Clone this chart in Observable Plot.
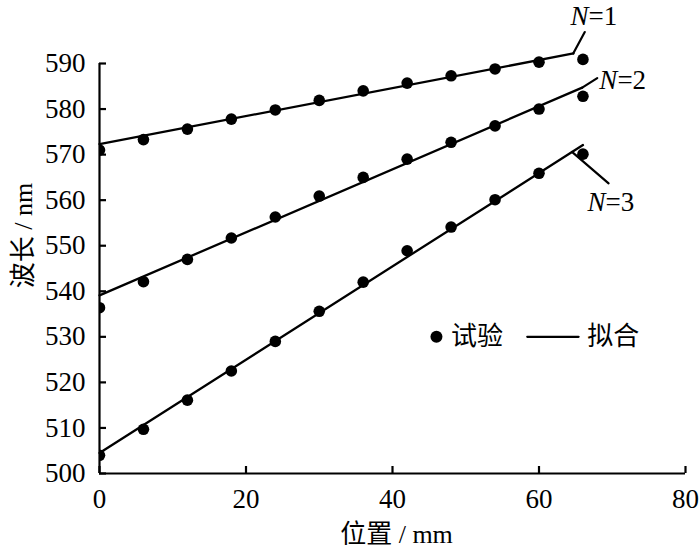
<!DOCTYPE html>
<html><head><meta charset="utf-8">
<script src="https://cdn.jsdelivr.net/npm/d3@7"></script>
<script src="https://cdn.jsdelivr.net/npm/@observablehq/plot@0.6"></script>
<style>
body{margin:0;background:#fff}
#chart svg, #chart svg text {font-family: "Liberation Serif", "Times New Roman", "DejaVu Serif", "Noto Sans CJK SC", serif !important;}
</style>
</head><body><div id="chart"></div>
<script>
// Data
const positions = [0, 6, 12, 18, 24, 30, 36, 42, 48, 54, 60, 66];
const seriesNames = ["N=1", "N=2", "N=3"];
const testN1 = [571.0, 573.3, 575.6, 577.8, 579.8, 581.9, 584.0, 585.7, 587.3, 588.8, 590.3, 590.9];
const testN2 = [536.4, 542.1, 547.0, 551.7, 556.3, 560.9, 565.0, 569.0, 572.7, 576.3, 580.0, 582.8];
const testN3 = [504.0, 509.7, 516.1, 522.5, 529.0, 535.6, 542.0, 548.9, 554.1, 560.1, 565.9, 570.1];
// fitted lines: start and end points
const fitX1 = [0, 64.7], fitY1 = [572.3, 592.2];
const fitX2 = [0, 65.9], fitY2 = [539.1, 584.7];
const fitX3 = [0, 66.0], fitY3 = [504.5, 572.1];
const xTicks = [0, 20, 40, 60, 80];
const yTicks = [500, 510, 520, 530, 540, 550, 560, 570, 580, 590];
const xDomain = [0, 80];
const yDomain = [500, 590];
const legendLabels = ["试验", "拟合"];

// annotation anchors (data units)
const leaderX = [[64.67, 66.25], [65.9, 67.95], [64.5, 69.5]];
const leaderY = [[592.2, 596.9], [584.7, 586.8], [570.6, 563.7]];
const labelSplitX = [66.76, 70.7, 69.08];
const labelY = [600.3, 586.3, 559.6];
const labelRest = ["=1", "=2", "=3"];

const tests = [testN1, testN2, testN3];
const fits = [[fitX1, fitY1], [fitX2, fitY2], [fitX3, fitY3]];
const points = tests.flatMap((ys, s) => positions.map((x, i) => ({series: seriesNames[s], x, y: ys[i]})));
const fitRows = fits.flatMap(([xs, ys], s) => xs.map((x, i) => ({series: seriesNames[s], x, y: ys[i]})));
const leaderRows = leaderX.flatMap((xs, s) => xs.map((x, i) => ({s, x, y: leaderY[s][i]})));
const labelRows = labelSplitX.map((x, s) => ({x, y: labelY[s], rest: labelRest[s]}));

const legendY = 530;
const legendDot = [{x: 46.0, y: legendY}];
const legendLine = [{x: 58.4, y: legendY}, {x: 65.4, y: legendY}];
const legendText = [{x: 48.0, y: legendY, t: legendLabels[0]}, {x: 66.6, y: legendY, t: legendLabels[1]}];

const ff = "Liberation Serif, Times New Roman, DejaVu Serif, Noto Sans CJK SC, serif";
const chart = Plot.plot({
  width: 700, height: 554,
  marginLeft: 99, marginRight: 15, marginTop: 63, marginBottom: 81,
  x: {domain: xDomain},
  y: {domain: yDomain},
  style: {fontSize: "27px", color: "#000", background: "#fff", overflow: "visible"},
  marks: [
    Plot.axisX(xTicks, {tickSize: -7, tickPadding: 22, strokeWidth: 2.2, label: null, fontSize: 27, fontFamily: ff}),
    Plot.axisY(yTicks, {tickSize: -7, tickPadding: 21, strokeWidth: 2.2, label: null, fontSize: 27, fontFamily: ff}),
    Plot.ruleX([xDomain[0]], {strokeWidth: 2.2}),
    Plot.ruleY([yDomain[0]], {strokeWidth: 2.2}),
    Plot.line(fitRows, {x: "x", y: "y", z: "series", stroke: "#000", strokeWidth: 2.3}),
    Plot.dot(points, {filter: d => d.x === xDomain[0], x: "x", y: "y", r: 5.8, fill: "#000", clip: true}),
    Plot.dot(points, {filter: d => d.x !== xDomain[0], x: "x", y: "y", r: 5.8, fill: "#000"}),
    Plot.line(leaderRows, {x: "x", y: "y", z: "s", stroke: "#000", strokeWidth: 2.2}),
    Plot.text(labelRows, {x: "x", y: "y", text: () => "N", fontStyle: "italic", textAnchor: "end", fontSize: 27, fontFamily: ff}),
    Plot.text(labelRows, {x: "x", y: "y", text: "rest", textAnchor: "start", fontSize: 27, fontFamily: ff}),
    Plot.dot(legendDot, {x: "x", y: "y", r: 6, fill: "#000"}),
    Plot.line(legendLine, {x: "x", y: "y", stroke: "#000", strokeWidth: 2.3}),
    Plot.text(legendText, {x: "x", y: "y", text: "t", textAnchor: "start", fontSize: 26, fontFamily: ff}),
    Plot.text(["位置 / mm"], {frameAnchor: "bottom", lineAnchor: "middle", textAnchor: "middle", dx: 4, dy: 61, fontSize: 26, fontFamily: ff}),
    Plot.text(["波长 / nm"], {frameAnchor: "left", lineAnchor: "middle", textAnchor: "middle", rotate: -90, dx: -76, dy: -33, fontSize: 26, fontFamily: ff})
  ]
});
document.getElementById("chart").appendChild(chart);
</script>
</body></html>
